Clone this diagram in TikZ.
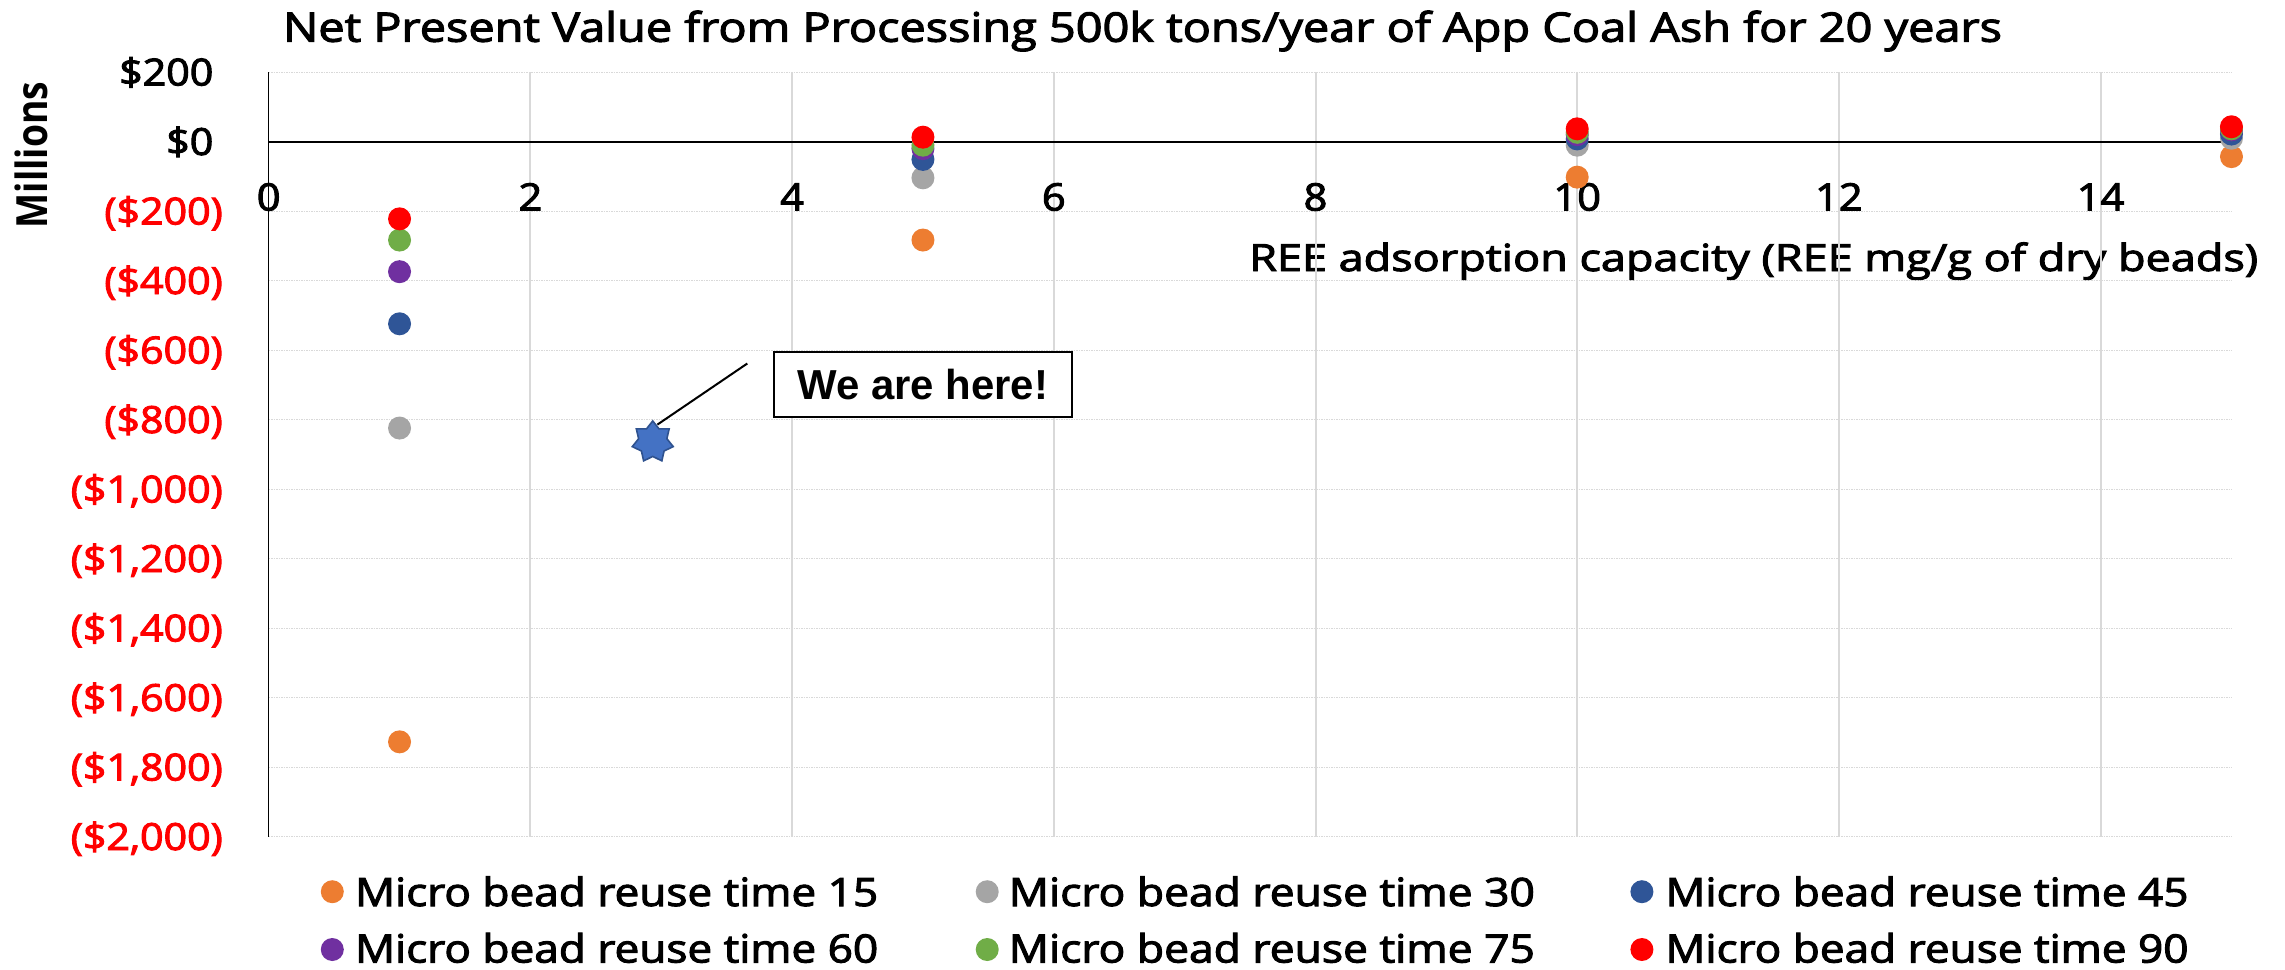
\documentclass[tikz,border=0pt]{standalone}
\usepackage{fontspec}
\usepackage{graphicx}
\setmainfont{Open Sans}
\newfontfamily\chartfont{Open Sans}[FakeBold=2.5]
\newfontfamily\calloutfont{Liberation Sans}
\usetikzlibrary{shapes.geometric}

\definecolor{c15}{HTML}{ED7D31}
\definecolor{c30}{HTML}{A5A5A5}
\definecolor{c45}{HTML}{2F5597}
\definecolor{c60}{HTML}{7030A0}
\definecolor{c75}{HTML}{70AD47}
\definecolor{c90}{HTML}{FF0000}
\definecolor{gridgray}{HTML}{D9D9D9}
\definecolor{starfill}{HTML}{4472C4}
\definecolor{starline}{HTML}{2F528F}

% stretch a text horizontally to a given width
\newlength\fitlen
\newcommand\fitto[2]{\settowidth\fitlen{#2}\pgfmathsetmacro\fitratio{#1/\fitlen}\scalebox{\fitratio}[1]{#2}}
\newcommand\widen[1]{\scalebox{1.1}[1]{#1}}

\tikzset{
  dot/.style={circle, inner sep=0pt, minimum size=23pt, draw=none},
  hgrid/.style={gridgray, line width=1.4pt, dash pattern=on 1.5pt off 1pt},
  vgrid/.style={gridgray, line width=2pt},
  axisline/.style={black, line width=1.4pt},
  zeroline/.style={black, line width=2.2pt},
  ylab/.style={anchor=base east, inner sep=0pt, font=\chartfont\fontsize{37.4}{44}\selectfont},
  xlab/.style={anchor=base, inner sep=0pt, font=\chartfont\fontsize{37.8}{44}\selectfont},
  legtext/.style={anchor=base west, inner sep=0pt, font=\chartfont\fontsize{39}{46}\selectfont},
  callout/.style={draw=black, line width=2.5pt, fill=white, inner sep=0pt,
    minimum width=298pt, minimum height=65pt,
    font=\calloutfont\bfseries\fontsize{41.9}{48}\selectfont},
  leader/.style={black, line width=2pt},
  starmarker/.style={star, star points=7, star point ratio=1.45, minimum size=42pt,
    inner sep=0pt, fill=starfill, draw=starline, line width=1.6pt}
}

\begin{document}
\begin{tikzpicture}[x=1pt, y=-1pt]
\path[fill=white] (0,0) rectangle (2285,969);

% title
\node[anchor=base, inner sep=0pt, font=\chartfont\fontsize{40.6}{48}\selectfont] (title) at (1142.5,41.7)
  {\fitto{1719pt}{Net Present Value from Processing 500k tons/year of App Coal Ash for 20 years}};

% vertical axis title
\node[rotate=90, anchor=base, inner sep=0pt, font=\bfseries\fontsize{43}{50}\selectfont] (ytitle) at (47.3,155)
  {\fitto{146.6pt}{Millions}};

% horizontal axis title
\node[anchor=base west, inner sep=0pt, font=\chartfont\fontsize{37.4}{44}\selectfont] (xtitle) at (1249,271)
  {\fitto{1009pt}{REE adsorption capacity (REE mg/g of dry beads)}};

% plot area in data coordinates
\begin{scope}[shift={(268.7,141.7)}, x=130.85pt, y=0.3475pt]
  \foreach \v in {200,-200,-400,...,-2000}
    \draw[hgrid] (0,\v) -- (15,\v);
  \foreach \u in {2,4,...,14}
    \draw[vgrid] (\u,200) -- (\u,-2000);
  \draw[axisline] (0,200) -- (0,-2000);
  \draw[zeroline] (0,0) -- (15,0);

  % value labels
  \node[ylab, xshift=-55.2pt, yshift=-13.3pt] (ylp1) at (0,200) {\widen{\$200}};
  \node[ylab, xshift=-55.2pt, yshift=-13.3pt] (ylp0) at (0,0) {\widen{\$0}};
  \foreach \v/\t [count=\i] in {-200/{(\$200)},-400/{(\$400)},-600/{(\$600)},-800/{(\$800)},
      -1000/{(\$1,000)},-1200/{(\$1,200)},-1400/{(\$1,400)},-1600/{(\$1,600)},
      -1800/{(\$1,800)},-2000/{(\$2,000)}}
    \node[ylab, text=c90, xshift=-45.7pt, yshift=-13.3pt] (yln\i) at (0,\v) {\widen{\t}};

  \foreach \u in {0,2,...,14}
    \node[xlab, yshift=-68.8pt] (xl\u) at (\u,0) {\widen{\u}};

  % series, drawn in order so the last lies on top
  \foreach \x/\v [count=\i] in {1/-1727,5/-283,10/-102,15/-43}
    \node[dot, fill=c15] (sa\i) at (\x,\v) {};
  \foreach \x/\v [count=\i] in {1/-824,5/-104,10/-10,15/10}
    \node[dot, fill=c30] (sb\i) at (\x,\v) {};
  \foreach \x/\v [count=\i] in {1/-524,5/-51,10/8,15/22}
    \node[dot, fill=c45] (sc\i) at (\x,\v) {};
  \foreach \x/\v [count=\i] in {1/-374,5/-20,10/20,15/34}
    \node[dot, fill=c60] (sd\i) at (\x,\v) {};
  \foreach \x/\v [count=\i] in {1/-283,5/-10,10/27,15/37}
    \node[dot, fill=c75] (se\i) at (\x,\v) {};
  \foreach \x/\v [count=\i] in {1/-222,5/13,10/37,15/43}
    \node[dot, fill=c90] (sf\i) at (\x,\v) {};

  \node[starmarker] (starmark) at (2.935,-864) {};
\end{scope}

% callout
\node[callout] (herebox) at (922.8,384.5) {We are here!};
\coordinate (leadend) at (747.3,363.5);
\draw[leader] ([xshift=4.7pt, yshift=-4.9pt]starmark.north) -- (leadend);

% legend
\node[dot, fill=c15] (lm15) at (332.3,891.7) {};
\node[legtext] (lt15) at (355,906) {\fitto{523pt}{Micro bead reuse time 15}};
\node[dot, fill=c30] (lm30) at (987.2,891.7) {};
\node[legtext] (lt30) at (1008.7,906) {\fitto{526pt}{Micro bead reuse time 30}};
\node[dot, fill=c45] (lm45) at (1641.9,891.7) {};
\node[legtext] (lt45) at (1665.3,906) {\fitto{523pt}{Micro bead reuse time 45}};
\node[dot, fill=c60] (lm60) at (332.3,949.5) {};
\node[legtext] (lt60) at (355,962.5) {\fitto{523pt}{Micro bead reuse time 60}};
\node[dot, fill=c75] (lm75) at (987.2,949.5) {};
\node[legtext] (lt75) at (1008.7,962.5) {\fitto{526pt}{Micro bead reuse time 75}};
\node[dot, fill=c90] (lm90) at (1641.9,949.5) {};
\node[legtext] (lt90) at (1665.3,962.5) {\fitto{523pt}{Micro bead reuse time 90}};
\end{tikzpicture}
\end{document}
